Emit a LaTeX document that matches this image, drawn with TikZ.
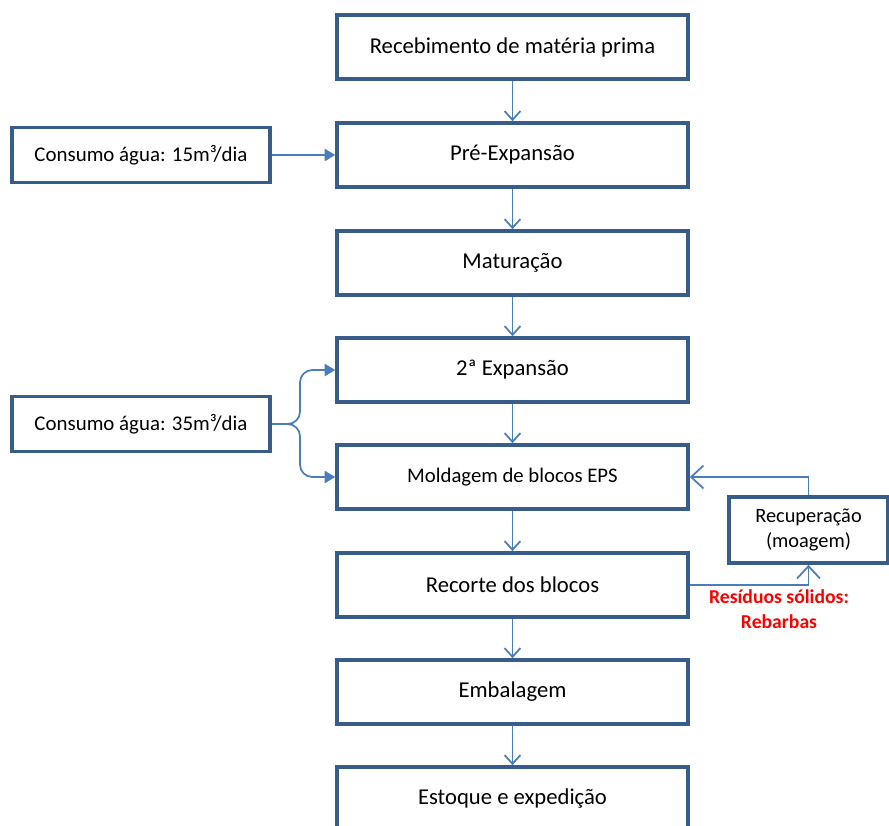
\documentclass[tikz,border=0pt]{standalone}
\usepackage{fontspec}
\setmainfont{Carlito}
\usetikzlibrary{arrows.meta}
\definecolor{boxline}{RGB}{56,93,138}
\definecolor{flowline}{RGB}{74,126,187}
\tikzset{
  stepbox/.style={draw=boxline, line width=2.1pt, fill=white, minimum width=7.02cm, minimum height=1.28cm, font=\fontsize{12.9}{15}\selectfont},
  inbox/.style={draw=boxline, line width=2.1pt, fill=white, minimum width=5.16cm, minimum height=1.1cm, font=\fontsize{11.9}{14}\selectfont},
  flow/.style={draw=flowline, line width=1pt, -{Straight Barb[length=5pt, width=9pt]}},
  feed/.style={draw=flowline, line width=1pt, -{Triangle[length=6pt, width=7pt]}}
}

\begin{document}
\begin{tikzpicture}[x=0.02cm, y=-0.02cm]
  \useasboundingbox (0,0) rectangle (889,825);
  % Main process column
  \node[stepbox] (m1) at (512.5,47) {Recebimento de matéria prima};
  \node[stepbox] (m2) at (512.5,155) {Pré-Expansão};
  \node[stepbox] (m3) at (512.5,263) {Maturação};
  \node[stepbox] (m4) at (512.5,370) {2ª Expansão};
  \node[stepbox, font=\fontsize{11.8}{14}\selectfont] (m5) at (512.5,477) {Moldagem de blocos EPS};
  \node[stepbox] (m6) at (512.5,585) {Recorte dos blocos};
  \node[stepbox] (m7) at (512.5,692) {Embalagem};
  \node[stepbox] (m8) at (512.5,799) {Estoque e expedição};
  % Water inputs
  \node[inbox] (c15) at (141,155) {Consumo água: 15m³/dia};
  \node[inbox] (c35) at (141,424) {Consumo água: 35m³/dia};
  % Recovery
  \node[draw=boxline, line width=2.1pt, fill=white, minimum width=3.18cm, minimum height=1.32cm, align=center, font=\fontsize{11.6}{14.5}\selectfont] (rec) at (808.5,530) {Recuperação\\(moagem)};
  % Main flow
  \draw[flow] (m1) -- (m2);
  \draw[flow] (m2) -- (m3);
  \draw[flow] (m3) -- (m4);
  \draw[flow] (m4) -- (m5);
  \draw[flow] (m5) -- (m6);
  \draw[flow] (m6) -- (m7);
  \draw[flow] (m7) -- (m8);
  % Water consumption
  \draw[feed] (c15) -- (m2);
  \draw[feed, rounded corners=7] (c35.east) -- (300,424) -- (300,370) -- (m4.west);
  \draw[feed, rounded corners=7] (c35.east) -- (300,424) -- (300,477) -- (m5.west);
  % Trimming waste back to moulding
  \draw[flow, -{Straight Barb[length=7pt, width=13pt]}] (m6.east) -| (rec.south);
  \draw[flow, -{Straight Barb[length=7pt, width=13pt]}] (rec.north) |- (m5.east);
  \node[red, font=\fontsize{11.2}{14}\selectfont\bfseries, align=center] (waste) at (779,609) {Resíduos sólidos:\\Rebarbas};
\end{tikzpicture}
\end{document}
